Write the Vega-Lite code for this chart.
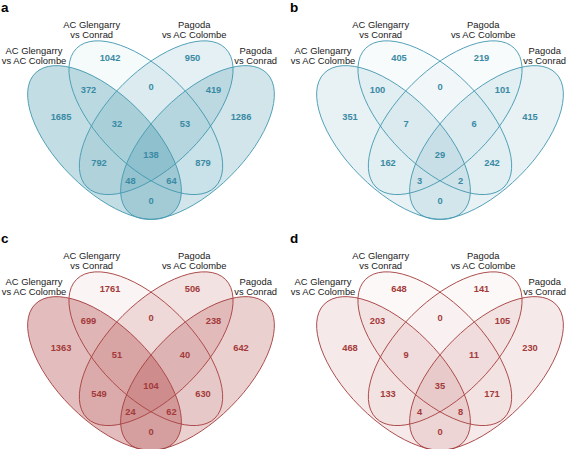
{
  "$schema": "https://vega.github.io/schema/vega-lite/v6.json",
  "padding": 0,
  "background": "white",
  "data": {"values": [
    {"panel":"a","kind":"letter","x":1,"y":7,"label":"a"},
    {"panel":"b","kind":"letter","x":1,"y":7,"label":"b"},
    {"panel":"c","kind":"letter","x":1,"y":7,"label":"c"},
    {"panel":"d","kind":"letter","x":1,"y":7,"label":"d"},

    {"panel":"a","kind":"ellipse","set":"AC Glengarry vs AC Colombe","x":104.5,"y":141.5},
    {"panel":"a","kind":"ellipse","set":"AC Glengarry vs Conrad","x":145.8,"y":116.7},
    {"panel":"a","kind":"ellipse","set":"Pagoda vs AC Colombe","x":156.2,"y":116.7},
    {"panel":"a","kind":"ellipse","set":"Pagoda vs Conrad","x":197.5,"y":141.5},
    {"panel":"b","kind":"ellipse","set":"AC Glengarry vs AC Colombe","x":104.5,"y":141.5},
    {"panel":"b","kind":"ellipse","set":"AC Glengarry vs Conrad","x":145.8,"y":116.7},
    {"panel":"b","kind":"ellipse","set":"Pagoda vs AC Colombe","x":156.2,"y":116.7},
    {"panel":"b","kind":"ellipse","set":"Pagoda vs Conrad","x":197.5,"y":141.5},
    {"panel":"c","kind":"ellipse","set":"AC Glengarry vs AC Colombe","x":104.5,"y":141.5},
    {"panel":"c","kind":"ellipse","set":"AC Glengarry vs Conrad","x":145.8,"y":116.7},
    {"panel":"c","kind":"ellipse","set":"Pagoda vs AC Colombe","x":156.2,"y":116.7},
    {"panel":"c","kind":"ellipse","set":"Pagoda vs Conrad","x":197.5,"y":141.5},
    {"panel":"d","kind":"ellipse","set":"AC Glengarry vs AC Colombe","x":104.5,"y":141.5},
    {"panel":"d","kind":"ellipse","set":"AC Glengarry vs Conrad","x":145.8,"y":116.7},
    {"panel":"d","kind":"ellipse","set":"Pagoda vs AC Colombe","x":156.2,"y":116.7},
    {"panel":"d","kind":"ellipse","set":"Pagoda vs Conrad","x":197.5,"y":141.5},

    {"panel":"a","kind":"set","x":34,"y":50,"label":"AC Glengarry\nvs AC Colombe"},
    {"panel":"a","kind":"set","x":91.7,"y":24.3,"label":"AC Glengarry\nvs Conrad"},
    {"panel":"a","kind":"set","x":194.2,"y":24.3,"label":"Pagoda\nvs AC Colombe"},
    {"panel":"a","kind":"set","x":255.7,"y":50,"label":"Pagoda\nvs Conrad"},
    {"panel":"b","kind":"set","x":34,"y":50,"label":"AC Glengarry\nvs AC Colombe"},
    {"panel":"b","kind":"set","x":91.7,"y":24.3,"label":"AC Glengarry\nvs Conrad"},
    {"panel":"b","kind":"set","x":194.2,"y":24.3,"label":"Pagoda\nvs AC Colombe"},
    {"panel":"b","kind":"set","x":255.7,"y":50,"label":"Pagoda\nvs Conrad"},
    {"panel":"c","kind":"set","x":34,"y":50,"label":"AC Glengarry\nvs AC Colombe"},
    {"panel":"c","kind":"set","x":91.7,"y":24.3,"label":"AC Glengarry\nvs Conrad"},
    {"panel":"c","kind":"set","x":194.2,"y":24.3,"label":"Pagoda\nvs AC Colombe"},
    {"panel":"c","kind":"set","x":255.7,"y":50,"label":"Pagoda\nvs Conrad"},
    {"panel":"d","kind":"set","x":34,"y":50,"label":"AC Glengarry\nvs AC Colombe"},
    {"panel":"d","kind":"set","x":91.7,"y":24.3,"label":"AC Glengarry\nvs Conrad"},
    {"panel":"d","kind":"set","x":194.2,"y":24.3,"label":"Pagoda\nvs AC Colombe"},
    {"panel":"d","kind":"set","x":255.7,"y":50,"label":"Pagoda\nvs Conrad"},

    {"panel":"a","kind":"count","x":61,"y":116,"n":"1685"},
    {"panel":"a","kind":"count","x":110,"y":57,"n":"1042"},
    {"panel":"a","kind":"count","x":192.5,"y":57,"n":"950"},
    {"panel":"a","kind":"count","x":241,"y":116,"n":"1286"},
    {"panel":"a","kind":"count","x":88.5,"y":88.5,"n":"372"},
    {"panel":"a","kind":"count","x":151,"y":86,"n":"0"},
    {"panel":"a","kind":"count","x":213.5,"y":88.5,"n":"419"},
    {"panel":"a","kind":"count","x":117,"y":123.3,"n":"32"},
    {"panel":"a","kind":"count","x":185,"y":123.3,"n":"53"},
    {"panel":"a","kind":"count","x":99,"y":161.7,"n":"792"},
    {"panel":"a","kind":"count","x":203,"y":161.7,"n":"879"},
    {"panel":"a","kind":"count","x":151,"y":153.5,"n":"138"},
    {"panel":"a","kind":"count","x":130.5,"y":180,"n":"48"},
    {"panel":"a","kind":"count","x":171.5,"y":180,"n":"64"},
    {"panel":"a","kind":"count","x":151,"y":199.5,"n":"0"},

    {"panel":"b","kind":"count","x":61,"y":116,"n":"351"},
    {"panel":"b","kind":"count","x":110,"y":57,"n":"405"},
    {"panel":"b","kind":"count","x":192.5,"y":57,"n":"219"},
    {"panel":"b","kind":"count","x":241,"y":116,"n":"415"},
    {"panel":"b","kind":"count","x":88.5,"y":88.5,"n":"100"},
    {"panel":"b","kind":"count","x":151,"y":86,"n":"0"},
    {"panel":"b","kind":"count","x":213.5,"y":88.5,"n":"101"},
    {"panel":"b","kind":"count","x":117,"y":123.3,"n":"7"},
    {"panel":"b","kind":"count","x":185,"y":123.3,"n":"6"},
    {"panel":"b","kind":"count","x":99,"y":161.7,"n":"162"},
    {"panel":"b","kind":"count","x":203,"y":161.7,"n":"242"},
    {"panel":"b","kind":"count","x":151,"y":153.5,"n":"29"},
    {"panel":"b","kind":"count","x":130.5,"y":180,"n":"3"},
    {"panel":"b","kind":"count","x":171.5,"y":180,"n":"2"},
    {"panel":"b","kind":"count","x":151,"y":199.5,"n":"0"},

    {"panel":"c","kind":"count","x":61,"y":116,"n":"1363"},
    {"panel":"c","kind":"count","x":110,"y":57,"n":"1761"},
    {"panel":"c","kind":"count","x":192.5,"y":57,"n":"506"},
    {"panel":"c","kind":"count","x":241,"y":116,"n":"642"},
    {"panel":"c","kind":"count","x":88.5,"y":88.5,"n":"699"},
    {"panel":"c","kind":"count","x":151,"y":86,"n":"0"},
    {"panel":"c","kind":"count","x":213.5,"y":88.5,"n":"238"},
    {"panel":"c","kind":"count","x":117,"y":123.3,"n":"51"},
    {"panel":"c","kind":"count","x":185,"y":123.3,"n":"40"},
    {"panel":"c","kind":"count","x":99,"y":161.7,"n":"549"},
    {"panel":"c","kind":"count","x":203,"y":161.7,"n":"630"},
    {"panel":"c","kind":"count","x":151,"y":153.5,"n":"104"},
    {"panel":"c","kind":"count","x":130.5,"y":180,"n":"24"},
    {"panel":"c","kind":"count","x":171.5,"y":180,"n":"62"},
    {"panel":"c","kind":"count","x":151,"y":199.5,"n":"0"},

    {"panel":"d","kind":"count","x":61,"y":116,"n":"468"},
    {"panel":"d","kind":"count","x":110,"y":57,"n":"648"},
    {"panel":"d","kind":"count","x":192.5,"y":57,"n":"141"},
    {"panel":"d","kind":"count","x":241,"y":116,"n":"230"},
    {"panel":"d","kind":"count","x":88.5,"y":88.5,"n":"203"},
    {"panel":"d","kind":"count","x":151,"y":86,"n":"0"},
    {"panel":"d","kind":"count","x":213.5,"y":88.5,"n":"105"},
    {"panel":"d","kind":"count","x":117,"y":123.3,"n":"9"},
    {"panel":"d","kind":"count","x":185,"y":123.3,"n":"11"},
    {"panel":"d","kind":"count","x":99,"y":161.7,"n":"133"},
    {"panel":"d","kind":"count","x":203,"y":161.7,"n":"171"},
    {"panel":"d","kind":"count","x":151,"y":153.5,"n":"35"},
    {"panel":"d","kind":"count","x":130.5,"y":180,"n":"4"},
    {"panel":"d","kind":"count","x":171.5,"y":180,"n":"8"},
    {"panel":"d","kind":"count","x":151,"y":199.5,"n":"0"}
  ]},
  "spacing": 9,
  "vconcat": [
    {
      "spacing": 11,
      "hconcat": [
        {
          "width": 278, "height": 220,
          "transform": [{"filter": "datum.panel === 'a'"}],
          "encoding": {
            "x": {"field": "x", "type": "quantitative", "scale": {"domain": [0, 278], "nice": false, "zero": false}, "axis": null},
            "y": {"field": "y", "type": "quantitative", "scale": {"domain": [0, 220], "nice": false, "zero": false, "reverse": true}, "axis": null}
          },
          "layer": [
            {"transform": [{"filter": "datum.kind === 'ellipse' && datum.set === 'AC Glengarry vs AC Colombe'"}],
             "mark": {"type": "point", "filled": true, "opacity": 1, "strokeWidth": 0.9, "size": 38416, "angle": 45, "fill": "rgba(64,148,172,0.32)", "stroke": "#4a9cb3",
               "shape": "M -1 0 C -1 -0.2651 -0.5523 -0.48 0 -0.48 C 0.5523 -0.48 1 -0.2651 1 0 C 1 0.2651 0.5523 0.48 0 0.48 C -0.5523 0.48 -1 0.2651 -1 0 Z"}},
            {"transform": [{"filter": "datum.kind === 'ellipse' && datum.set === 'AC Glengarry vs Conrad'"}],
             "mark": {"type": "point", "filled": true, "opacity": 1, "strokeWidth": 0.9, "size": 38416, "angle": 45, "fill": "rgba(64,148,172,0.05)", "stroke": "#4a9cb3",
               "shape": "M -1 0 C -1 -0.2651 -0.5523 -0.48 0 -0.48 C 0.5523 -0.48 1 -0.2651 1 0 C 1 0.2651 0.5523 0.48 0 0.48 C -0.5523 0.48 -1 0.2651 -1 0 Z"}},
            {"transform": [{"filter": "datum.kind === 'ellipse' && datum.set === 'Pagoda vs AC Colombe'"}],
             "mark": {"type": "point", "filled": true, "opacity": 1, "strokeWidth": 0.9, "size": 38416, "angle": 315, "fill": "rgba(64,148,172,0.14)", "stroke": "#4a9cb3",
               "shape": "M -1 0 C -1 -0.2651 -0.5523 -0.48 0 -0.48 C 0.5523 -0.48 1 -0.2651 1 0 C 1 0.2651 0.5523 0.48 0 0.48 C -0.5523 0.48 -1 0.2651 -1 0 Z"}},
            {"transform": [{"filter": "datum.kind === 'ellipse' && datum.set === 'Pagoda vs Conrad'"}],
             "mark": {"type": "point", "filled": true, "opacity": 1, "strokeWidth": 0.9, "size": 38416, "angle": 315, "fill": "rgba(64,148,172,0.24)", "stroke": "#4a9cb3",
               "shape": "M -1 0 C -1 -0.2651 -0.5523 -0.48 0 -0.48 C 0.5523 -0.48 1 -0.2651 1 0 C 1 0.2651 0.5523 0.48 0 0.48 C -0.5523 0.48 -1 0.2651 -1 0 Z"}},
            {"transform": [{"filter": "datum.kind === 'count'"}],
             "mark": {"type": "text", "font": "Liberation Sans", "fontSize": 9.3, "fontWeight": "bold", "align": "center", "baseline": "middle", "color": "#3a8aa4"},
             "encoding": {"text": {"field": "n", "type": "nominal"}}},
            {"transform": [{"filter": "datum.kind === 'set'"}],
             "mark": {"type": "text", "font": "Liberation Sans", "fontSize": 9.4, "align": "center", "baseline": "middle", "lineBreak": "\n", "lineHeight": 10.2, "color": "#1a1a1a"},
             "encoding": {"text": {"field": "label", "type": "nominal"}}},
            {"transform": [{"filter": "datum.kind === 'letter'"}],
             "mark": {"type": "text", "font": "Liberation Sans", "fontSize": 13.5, "fontWeight": "bold", "align": "left", "baseline": "middle", "color": "#000000"},
             "encoding": {"text": {"field": "label", "type": "nominal"}}}
          ]
        },
        {
          "width": 278, "height": 220,
          "transform": [{"filter": "datum.panel === 'b'"}],
          "encoding": {
            "x": {"field": "x", "type": "quantitative", "scale": {"domain": [0, 278], "nice": false, "zero": false}, "axis": null},
            "y": {"field": "y", "type": "quantitative", "scale": {"domain": [0, 220], "nice": false, "zero": false, "reverse": true}, "axis": null}
          },
          "layer": [
            {"transform": [{"filter": "datum.kind === 'ellipse' && datum.set === 'AC Glengarry vs AC Colombe'"}],
             "mark": {"type": "point", "filled": true, "opacity": 1, "strokeWidth": 0.9, "size": 38416, "angle": 45, "fill": "rgba(64,148,172,0.12)", "stroke": "#4a9cb3",
               "shape": "M -1 0 C -1 -0.2651 -0.5523 -0.48 0 -0.48 C 0.5523 -0.48 1 -0.2651 1 0 C 1 0.2651 0.5523 0.48 0 0.48 C -0.5523 0.48 -1 0.2651 -1 0 Z"}},
            {"transform": [{"filter": "datum.kind === 'ellipse' && datum.set === 'AC Glengarry vs Conrad'"}],
             "mark": {"type": "point", "filled": true, "opacity": 1, "strokeWidth": 0.9, "size": 38416, "angle": 45, "fill": "rgba(64,148,172,0.04)", "stroke": "#4a9cb3",
               "shape": "M -1 0 C -1 -0.2651 -0.5523 -0.48 0 -0.48 C 0.5523 -0.48 1 -0.2651 1 0 C 1 0.2651 0.5523 0.48 0 0.48 C -0.5523 0.48 -1 0.2651 -1 0 Z"}},
            {"transform": [{"filter": "datum.kind === 'ellipse' && datum.set === 'Pagoda vs AC Colombe'"}],
             "mark": {"type": "point", "filled": true, "opacity": 1, "strokeWidth": 0.9, "size": 38416, "angle": 315, "fill": "rgba(64,148,172,0.04)", "stroke": "#4a9cb3",
               "shape": "M -1 0 C -1 -0.2651 -0.5523 -0.48 0 -0.48 C 0.5523 -0.48 1 -0.2651 1 0 C 1 0.2651 0.5523 0.48 0 0.48 C -0.5523 0.48 -1 0.2651 -1 0 Z"}},
            {"transform": [{"filter": "datum.kind === 'ellipse' && datum.set === 'Pagoda vs Conrad'"}],
             "mark": {"type": "point", "filled": true, "opacity": 1, "strokeWidth": 0.9, "size": 38416, "angle": 315, "fill": "rgba(64,148,172,0.12)", "stroke": "#4a9cb3",
               "shape": "M -1 0 C -1 -0.2651 -0.5523 -0.48 0 -0.48 C 0.5523 -0.48 1 -0.2651 1 0 C 1 0.2651 0.5523 0.48 0 0.48 C -0.5523 0.48 -1 0.2651 -1 0 Z"}},
            {"transform": [{"filter": "datum.kind === 'count'"}],
             "mark": {"type": "text", "font": "Liberation Sans", "fontSize": 9.3, "fontWeight": "bold", "align": "center", "baseline": "middle", "color": "#3a8aa4"},
             "encoding": {"text": {"field": "n", "type": "nominal"}}},
            {"transform": [{"filter": "datum.kind === 'set'"}],
             "mark": {"type": "text", "font": "Liberation Sans", "fontSize": 9.4, "align": "center", "baseline": "middle", "lineBreak": "\n", "lineHeight": 10.2, "color": "#1a1a1a"},
             "encoding": {"text": {"field": "label", "type": "nominal"}}},
            {"transform": [{"filter": "datum.kind === 'letter'"}],
             "mark": {"type": "text", "font": "Liberation Sans", "fontSize": 13.5, "fontWeight": "bold", "align": "left", "baseline": "middle", "color": "#000000"},
             "encoding": {"text": {"field": "label", "type": "nominal"}}}
          ]
        }
      ]
    },
    {
      "spacing": 11,
      "hconcat": [
        {
          "width": 278, "height": 220,
          "transform": [{"filter": "datum.panel === 'c'"}],
          "encoding": {
            "x": {"field": "x", "type": "quantitative", "scale": {"domain": [0, 278], "nice": false, "zero": false}, "axis": null},
            "y": {"field": "y", "type": "quantitative", "scale": {"domain": [0, 220], "nice": false, "zero": false, "reverse": true}, "axis": null}
          },
          "layer": [
            {"transform": [{"filter": "datum.kind === 'ellipse' && datum.set === 'AC Glengarry vs AC Colombe'"}],
             "mark": {"type": "point", "filled": true, "opacity": 1, "strokeWidth": 0.9, "size": 38416, "angle": 45, "fill": "rgba(178,72,72,0.36)", "stroke": "#a84444",
               "shape": "M -1 0 C -1 -0.2651 -0.5523 -0.48 0 -0.48 C 0.5523 -0.48 1 -0.2651 1 0 C 1 0.2651 0.5523 0.48 0 0.48 C -0.5523 0.48 -1 0.2651 -1 0 Z"}},
            {"transform": [{"filter": "datum.kind === 'ellipse' && datum.set === 'AC Glengarry vs Conrad'"}],
             "mark": {"type": "point", "filled": true, "opacity": 1, "strokeWidth": 0.9, "size": 38416, "angle": 45, "fill": "rgba(178,72,72,0.06)", "stroke": "#a84444",
               "shape": "M -1 0 C -1 -0.2651 -0.5523 -0.48 0 -0.48 C 0.5523 -0.48 1 -0.2651 1 0 C 1 0.2651 0.5523 0.48 0 0.48 C -0.5523 0.48 -1 0.2651 -1 0 Z"}},
            {"transform": [{"filter": "datum.kind === 'ellipse' && datum.set === 'Pagoda vs AC Colombe'"}],
             "mark": {"type": "point", "filled": true, "opacity": 1, "strokeWidth": 0.9, "size": 38416, "angle": 315, "fill": "rgba(178,72,72,0.16)", "stroke": "#a84444",
               "shape": "M -1 0 C -1 -0.2651 -0.5523 -0.48 0 -0.48 C 0.5523 -0.48 1 -0.2651 1 0 C 1 0.2651 0.5523 0.48 0 0.48 C -0.5523 0.48 -1 0.2651 -1 0 Z"}},
            {"transform": [{"filter": "datum.kind === 'ellipse' && datum.set === 'Pagoda vs Conrad'"}],
             "mark": {"type": "point", "filled": true, "opacity": 1, "strokeWidth": 0.9, "size": 38416, "angle": 315, "fill": "rgba(178,72,72,0.26)", "stroke": "#a84444",
               "shape": "M -1 0 C -1 -0.2651 -0.5523 -0.48 0 -0.48 C 0.5523 -0.48 1 -0.2651 1 0 C 1 0.2651 0.5523 0.48 0 0.48 C -0.5523 0.48 -1 0.2651 -1 0 Z"}},
            {"transform": [{"filter": "datum.kind === 'count'"}],
             "mark": {"type": "text", "font": "Liberation Sans", "fontSize": 9.3, "fontWeight": "bold", "align": "center", "baseline": "middle", "color": "#a33a3a"},
             "encoding": {"text": {"field": "n", "type": "nominal"}}},
            {"transform": [{"filter": "datum.kind === 'set'"}],
             "mark": {"type": "text", "font": "Liberation Sans", "fontSize": 9.4, "align": "center", "baseline": "middle", "lineBreak": "\n", "lineHeight": 10.2, "color": "#1a1a1a"},
             "encoding": {"text": {"field": "label", "type": "nominal"}}},
            {"transform": [{"filter": "datum.kind === 'letter'"}],
             "mark": {"type": "text", "font": "Liberation Sans", "fontSize": 13.5, "fontWeight": "bold", "align": "left", "baseline": "middle", "color": "#000000"},
             "encoding": {"text": {"field": "label", "type": "nominal"}}}
          ]
        },
        {
          "width": 278, "height": 220,
          "transform": [{"filter": "datum.panel === 'd'"}],
          "encoding": {
            "x": {"field": "x", "type": "quantitative", "scale": {"domain": [0, 278], "nice": false, "zero": false}, "axis": null},
            "y": {"field": "y", "type": "quantitative", "scale": {"domain": [0, 220], "nice": false, "zero": false, "reverse": true}, "axis": null}
          },
          "layer": [
            {"transform": [{"filter": "datum.kind === 'ellipse' && datum.set === 'AC Glengarry vs AC Colombe'"}],
             "mark": {"type": "point", "filled": true, "opacity": 1, "strokeWidth": 0.9, "size": 38416, "angle": 45, "fill": "rgba(178,72,72,0.12)", "stroke": "#a84444",
               "shape": "M -1 0 C -1 -0.2651 -0.5523 -0.48 0 -0.48 C 0.5523 -0.48 1 -0.2651 1 0 C 1 0.2651 0.5523 0.48 0 0.48 C -0.5523 0.48 -1 0.2651 -1 0 Z"}},
            {"transform": [{"filter": "datum.kind === 'ellipse' && datum.set === 'AC Glengarry vs Conrad'"}],
             "mark": {"type": "point", "filled": true, "opacity": 1, "strokeWidth": 0.9, "size": 38416, "angle": 45, "fill": "rgba(178,72,72,0.04)", "stroke": "#a84444",
               "shape": "M -1 0 C -1 -0.2651 -0.5523 -0.48 0 -0.48 C 0.5523 -0.48 1 -0.2651 1 0 C 1 0.2651 0.5523 0.48 0 0.48 C -0.5523 0.48 -1 0.2651 -1 0 Z"}},
            {"transform": [{"filter": "datum.kind === 'ellipse' && datum.set === 'Pagoda vs AC Colombe'"}],
             "mark": {"type": "point", "filled": true, "opacity": 1, "strokeWidth": 0.9, "size": 38416, "angle": 315, "fill": "rgba(178,72,72,0.04)", "stroke": "#a84444",
               "shape": "M -1 0 C -1 -0.2651 -0.5523 -0.48 0 -0.48 C 0.5523 -0.48 1 -0.2651 1 0 C 1 0.2651 0.5523 0.48 0 0.48 C -0.5523 0.48 -1 0.2651 -1 0 Z"}},
            {"transform": [{"filter": "datum.kind === 'ellipse' && datum.set === 'Pagoda vs Conrad'"}],
             "mark": {"type": "point", "filled": true, "opacity": 1, "strokeWidth": 0.9, "size": 38416, "angle": 315, "fill": "rgba(178,72,72,0.12)", "stroke": "#a84444",
               "shape": "M -1 0 C -1 -0.2651 -0.5523 -0.48 0 -0.48 C 0.5523 -0.48 1 -0.2651 1 0 C 1 0.2651 0.5523 0.48 0 0.48 C -0.5523 0.48 -1 0.2651 -1 0 Z"}},
            {"transform": [{"filter": "datum.kind === 'count'"}],
             "mark": {"type": "text", "font": "Liberation Sans", "fontSize": 9.3, "fontWeight": "bold", "align": "center", "baseline": "middle", "color": "#a33a3a"},
             "encoding": {"text": {"field": "n", "type": "nominal"}}},
            {"transform": [{"filter": "datum.kind === 'set'"}],
             "mark": {"type": "text", "font": "Liberation Sans", "fontSize": 9.4, "align": "center", "baseline": "middle", "lineBreak": "\n", "lineHeight": 10.2, "color": "#1a1a1a"},
             "encoding": {"text": {"field": "label", "type": "nominal"}}},
            {"transform": [{"filter": "datum.kind === 'letter'"}],
             "mark": {"type": "text", "font": "Liberation Sans", "fontSize": 13.5, "fontWeight": "bold", "align": "left", "baseline": "middle", "color": "#000000"},
             "encoding": {"text": {"field": "label", "type": "nominal"}}}
          ]
        }
      ]
    }
  ],
  "config": {"view": {"stroke": null}}
}
